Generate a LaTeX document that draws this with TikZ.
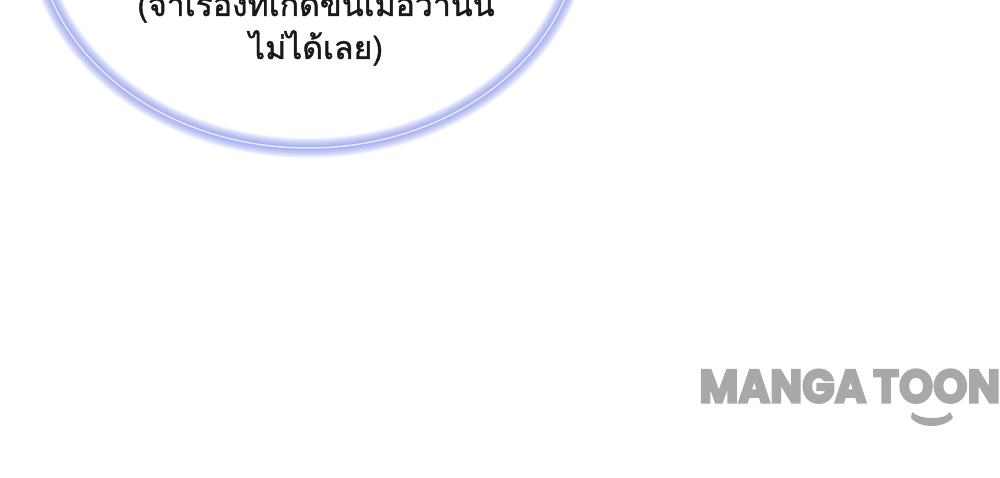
\documentclass[tikz,border=0pt]{standalone}
\usepackage{fontspec}
\usepackage{graphicx}
\newfontfamily\thaifont[Script=Thai,FakeBold=1.2]{Loma}
\newfontfamily\logofont[FakeBold=5]{Poppins Bold}
\definecolor{glow}{RGB}{95,110,235}
\definecolor{logogray}{RGB}{168,168,168}
\tikzset{
  thaitext/.style={font=\thaifont\fontsize{32}{36}\selectfont, text=black!90, anchor=base, inner sep=0pt},
  logotext/.style={text=logogray, anchor=south west, inner sep=0pt},
}
\begin{document}
\begin{tikzpicture}[x=1pt,y=-1pt]
\useasboundingbox (0,0) rectangle (1000,478);
\fill[white] (0,0) rectangle (1000,478);
\begin{scope}
\clip (0,0) rectangle (1000,478);
\foreach \w in {20,18,...,2}{
  \draw[glow, opacity=0.075, line width=\w pt] (308,-75) ellipse [x radius=272, y radius=223];
}
\draw[white, opacity=0.75, line width=1.5pt] (308,-75) ellipse [x radius=272, y radius=223];
\node[thaitext] (line1) at (316,16) {(จำเรื่องที่เกิดขึ้นเมื่อวานนี้};
\node[thaitext] (line2) at (316,59) {ไม่ได้เลย)};
\end{scope}
\node[logotext] (logo1) at (699,403) {\resizebox{167pt}{33pt}{\logofont MANGA}};
\node[logotext] (logo2) at (873,403) {\resizebox{127pt}{33pt}{\logofont TOON}};
\fill[logogray] (912,412) .. controls (918,417) and (925,418) .. (932,418)
  .. controls (939,418) and (947,417) .. (950,412) -- (953,418)
  .. controls (947,424) and (939,426) .. (932,426)
  .. controls (925,426) and (916,424) .. (911,418) -- cycle;
\end{tikzpicture}
\end{document}
